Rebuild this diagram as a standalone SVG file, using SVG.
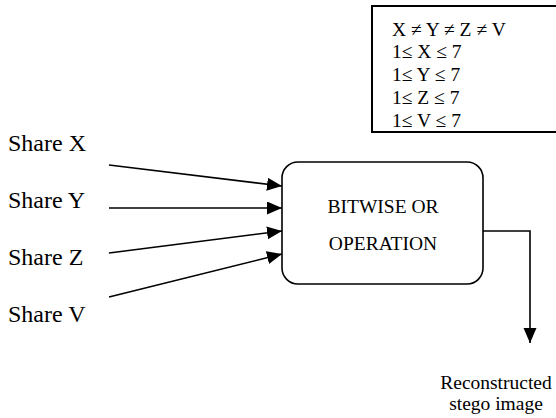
<svg xmlns="http://www.w3.org/2000/svg" width="556" height="418" viewBox="0 0 556 418">
<style>
  text { font-family: "Liberation Serif", "Times New Roman", serif; fill: #000; }
  .share { font-family: "Liberation Serif", "Times New Roman", serif; font-size: 24px; }
  .t { font-family: "Liberation Serif", "Times New Roman", serif; font-size: 19.5px; }
  .edge { stroke: #000; stroke-width: 1.6; fill: none; }
</style>
<defs>
  <marker id="ah" markerUnits="userSpaceOnUse" markerWidth="16" markerHeight="14" refX="15" refY="6.5" orient="auto">
    <path d="M0,0 L15,6.5 L0,13 Z" fill="#000"/>
  </marker>
</defs>
<rect width="556" height="418" fill="#fff"/>

<g id="constraints">
  <rect x="372" y="6" width="200" height="126" fill="#fff" stroke="#000" stroke-width="2"/>
  <text class="t" x="392" y="36">X ≠ Y ≠ Z ≠ V</text>
  <text class="t" x="392" y="58">1≤ X ≤ 7</text>
  <text class="t" x="392" y="81">1≤ Y ≤ 7</text>
  <text class="t" x="392" y="104">1≤ Z ≤ 7</text>
  <text class="t" x="392" y="127">1≤ V ≤ 7</text>
</g>

<g id="share-x"><text class="share" x="8" y="151">Share X</text></g>
<g id="share-y"><text class="share" x="8" y="208">Share Y</text></g>
<g id="share-z"><text class="share" x="8" y="265">Share Z</text></g>
<g id="share-v"><text class="share" x="8" y="322">Share V</text></g>

<g id="bitwise-or">
  <rect x="282" y="162" width="201" height="122" rx="16" ry="16" fill="#fff" stroke="#000" stroke-width="1.6"/>
  <text class="t" x="383" y="213" text-anchor="middle">BITWISE OR</text>
  <text class="t" x="383" y="250" text-anchor="middle">OPERATION</text>
</g>

<g id="output-label">
  <text class="t" x="496" y="389" text-anchor="middle">Reconstructed</text>
  <text class="t" x="496" y="410" text-anchor="middle">stego image</text>
</g>

<g id="connectors">
  <line class="edge" x1="109" y1="165" x2="282" y2="186" marker-end="url(#ah)"/>
  <line class="edge" x1="109" y1="208" x2="282" y2="208" marker-end="url(#ah)"/>
  <line class="edge" x1="109" y1="253" x2="282" y2="231" marker-end="url(#ah)"/>
  <line class="edge" x1="109" y1="297" x2="282" y2="254" marker-end="url(#ah)"/>
  <path class="edge" d="M483,231 H530 V343" marker-end="url(#ah)"/>
</g>
</svg>
